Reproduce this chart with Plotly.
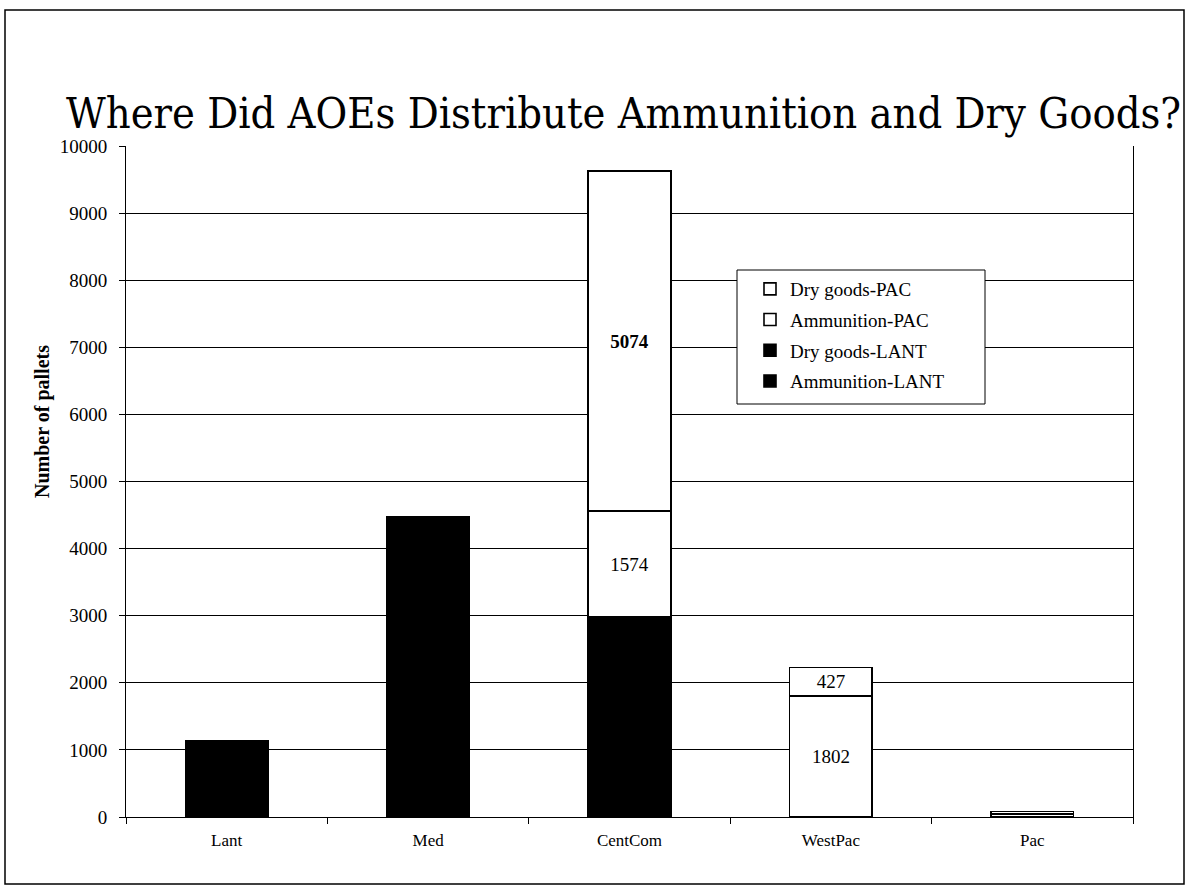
import plotly.graph_objects as go

# Fleet areas where the AOEs delivered cargo
regions = ["Lant", "Med", "CentCom", "WestPac", "Pac"]

# Pallets delivered, by cargo type and source fleet
ammunition_lant = [30, 30, 30, 0, 0]
dry_goods_lant = [1110, 4450, 2952, 0, 0]
ammunition_pac = [0, 0, 1574, 1802, 45]
dry_goods_pac = [0, 0, 5074, 427, 35]

# Segment labels shown inside the bars
ammunition_pac_labels = ["", "", "1574", "1802", ""]
dry_goods_pac_labels = ["", "", "<b>5074</b>", "427", ""]

y_ticks = list(range(0, 10001, 1000))

FONT = "Liberation Serif"
HEADING_FONT = "DejaVu Serif Condensed, DejaVu Serif, serif"

# (name, values, fill, labels, legend position from the top)
series = [
    ("Ammunition-LANT", ammunition_lant, "black", None, 4),
    ("Dry goods-LANT", dry_goods_lant, "black", None, 3),
    ("Ammunition-PAC", ammunition_pac, "white", ammunition_pac_labels, 2),
    ("Dry goods-PAC", dry_goods_pac, "white", dry_goods_pac_labels, 1),
]

# pixel helpers for the 1007 x 671 plot area (left 126, bottom 817)
def px_x(px):
    return (px - 126) / 1007

def px_y(px):
    return (817 - px) / 671

fig = go.Figure()
for name, values, colour, labels, rank in series:
    fig.add_trace(go.Bar(
        name=name,
        x=regions,
        y=values,
        legendgroup=name,
        legendrank=rank,
        marker=dict(color=colour, line=dict(color="black", width=1.6)),
        text=labels,
        textposition="inside" if labels else "none",
        insidetextanchor="middle",
        constraintext="none",
        textangle=0,
        textfont=dict(family=FONT, size=19, color="black"),
        hoverinfo="x+y+name",
    ))

fig.update_layout(
    barmode="stack",
    bargap=0.59,
    width=1186,
    height=890,
    margin=dict(l=126, r=53, t=146, b=73),
    paper_bgcolor="white",
    plot_bgcolor="white",
    font=dict(family=FONT, color="black"),
    title=dict(
        text="Where Did AOEs Distribute Ammunition and Dry Goods?",
        font=dict(family=HEADING_FONT, size=43, color="black"),
        x=623.5 / 1186, xanchor="center",
        y=(890 - 128) / 890, yanchor="bottom",
        yref="container",
    ),
    legend=dict(
        x=px_x(750), y=px_y(270), xanchor="left", yanchor="top",
        traceorder="grouped",
        tracegroupgap=3,
        bgcolor="rgba(0,0,0,0)",
        borderwidth=0,
        font=dict(family=FONT, size=19, color="black"),
        itemwidth=30,
    ),
    showlegend=True,
)

fig.update_xaxes(
    showline=True, linecolor="black", linewidth=1,
    ticks="outside", ticklen=6, tickcolor="black",
    tickson="boundaries",
    ticklabelstandoff=8,
    tickfont=dict(family=FONT, size=17, color="black"),
    showgrid=False,
)

fig.update_yaxes(
    range=[0, 10000],
    tickvals=y_ticks,
    tickformat="d",
    showline=True, linecolor="black", linewidth=1, mirror=True,
    ticks="outside", ticklen=6, tickcolor="black",
    ticklabelstandoff=8,
    showgrid=True, gridcolor="black", gridwidth=1,
    tickfont=dict(family=FONT, size=19, color="black"),
    zeroline=False,
)

# value-axis title, centred on the chart area rather than the plot
fig.add_annotation(
    text="<b>Number of pallets</b>",
    xref="paper", yref="paper",
    x=px_x(42), y=px_y(422),
    xanchor="center", yanchor="middle",
    textangle=-90, showarrow=False,
    font=dict(family=FONT, size=20, color="black"),
)

# legend frame
fig.add_shape(
    type="rect", xref="paper", yref="paper",
    x0=px_x(737), x1=px_x(985), y0=px_y(404), y1=px_y(270),
    line=dict(color="black", width=1),
    fillcolor="white",
    layer="above",
)

# outer frame around the whole chart
fig.add_shape(
    type="rect", xref="paper", yref="paper",
    x0=px_x(5), x1=px_x(1184), y0=px_y(884), y1=px_y(10),
    line=dict(color="black", width=1.5),
    fillcolor="rgba(0,0,0,0)",
    layer="below",
)

fig.write_html("out.html")
